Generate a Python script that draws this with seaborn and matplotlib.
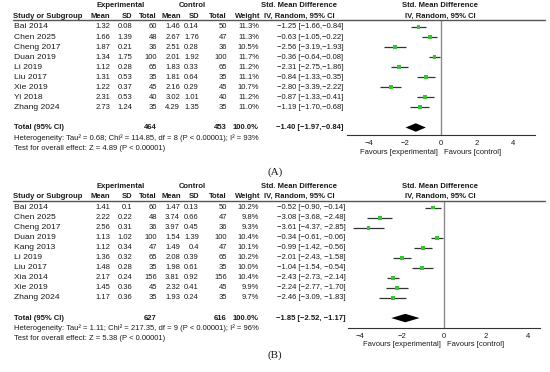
import numpy as np
import matplotlib
matplotlib.use('Agg')
import matplotlib.pyplot as plt
import seaborn as sns

# ---- panel A data ----
studies_a = ["Bai 2014", "Chen 2025", "Cheng 2017", "Duan 2019", "Li 2019",
             "Liu 2017", "Xie 2019", "Yi 2018", "Zhang 2024"]
exp_mean_a = [1.32, 1.66, 1.87, 1.34, 1.12, 1.31, 1.22, 2.31, 2.73]
exp_sd_a = [0.08, 1.39, 0.21, 1.75, 0.28, 0.53, 0.37, 0.53, 1.24]
exp_n_a = [60, 48, 36, 100, 65, 35, 45, 40, 35]
ctl_mean_a = [1.46, 2.67, 2.51, 2.01, 1.83, 1.81, 2.16, 3.02, 4.29]
ctl_sd_a = [0.14, 1.76, 0.28, 1.92, 0.33, 0.64, 0.29, 1.01, 1.35]
ctl_n_a = [50, 47, 36, 100, 65, 35, 45, 40, 35]
weight_a = [11.3, 11.3, 10.5, 11.7, 11.2, 11.1, 10.7, 11.2, 11.0]
smd_a = [-1.25, -0.63, -2.56, -0.36, -2.31, -0.84, -2.80, -0.87, -1.19]
lo_a = [-1.66, -1.05, -3.19, -0.64, -2.75, -1.33, -3.39, -1.33, -1.70]
hi_a = [-0.84, -0.22, -1.93, -0.08, -1.86, -0.35, -2.22, -0.41, -0.68]
total_a = (464, 453, -1.40, -1.97, -0.84)
het_a = "Heterogeneity: Tau\u00b2 = 0.68; Chi\u00b2 = 114.85, df = 8 (P < 0.00001); I\u00b2 = 93%"
test_a = "Test for overall effect: Z = 4.89 (P < 0.00001)"

# ---- panel B data ----
studies_b = ["Bai 2014", "Chen 2025", "Cheng 2017", "Duan 2019", "Kang 2013",
             "Li 2019", "Liu 2017", "Xia 2014", "Xie 2019", "Zhang 2024"]
exp_mean_b = [1.41, 2.22, 2.56, 1.13, 1.12, 1.36, 1.48, 2.17, 1.45, 1.17]
exp_sd_b = [0.1, 0.22, 0.31, 1.02, 0.34, 0.32, 0.28, 0.24, 0.36, 0.36]
exp_n_b = [60, 48, 36, 100, 47, 65, 35, 156, 45, 35]
ctl_mean_b = [1.47, 3.74, 3.97, 1.54, 1.49, 2.08, 1.98, 3.81, 2.32, 1.93]
ctl_sd_b = [0.13, 0.66, 0.45, 1.39, 0.4, 0.39, 0.61, 0.92, 0.41, 0.24]
ctl_n_b = [50, 47, 36, 100, 47, 65, 35, 156, 45, 35]
weight_b = [10.2, 9.8, 9.3, 10.4, 10.1, 10.2, 10.0, 10.4, 9.9, 9.7]
smd_b = [-0.52, -3.08, -3.61, -0.34, -0.99, -2.01, -1.04, -2.43, -2.24, -2.46]
lo_b = [-0.90, -3.68, -4.37, -0.61, -1.42, -2.43, -1.54, -2.73, -2.77, -3.09]
hi_b = [-0.14, -2.48, -2.85, -0.06, -0.56, -1.58, -0.54, -2.14, -1.70, -1.83]
total_b = (627, 616, -1.85, -2.52, -1.17)
het_b = "Heterogeneity: Tau\u00b2 = 1.11; Chi\u00b2 = 217.35, df = 9 (P < 0.00001); I\u00b2 = 96%"
test_b = "Test for overall effect: Z = 5.38 (P < 0.00001)"

ticks = [-4, -2, 0, 2, 4]

sns.set_theme(style='white')
plt.rcParams['font.family'] = ['Liberation Sans', 'DejaVu Sans']

W, H = 550, 372
fig = plt.figure(figsize=(5.5, 3.72), dpi=100)
FS = 5.5
GREEN = '#2fc82f'


def fx(x):
    return x / W


def fy(y):
    return 1 - y / H


def txt(x, y, s, **kw):
    kw.setdefault('fontsize', FS)
    kw.setdefault('va', 'center')
    kw.setdefault('color', '#1a1a1a')
    fig.text(fx(x), fy(y), s, **kw)


def m(v):
    return f"{v:.2f}".replace('-', '\u2212')


def panel(y0, studies, em, esd, en, cm, csd, cn, w, smd, lo, hi, total,
          het, test, sep, xlim, ax_left, ax_right, ax_bottom, label, label_y):
    step = 10.05
    rows = np.arange(len(studies))
    ry = lambda r: y0 + 11 + r * step
    # header block
    txt(121, y0 - 10.5, "Experimental", ha='center', fontweight='bold')
    txt(192, y0 - 10.5, "Control", ha='center', fontweight='bold')
    txt(299, y0 - 10.5, "Std. Mean Difference", ha='center', fontweight='bold')
    txt(440, y0 - 10.5, "Std. Mean Difference", ha='center', fontweight='bold')
    txt(13, y0, "Study or Subgroup", fontweight='bold')
    for x, s in [(110, "Mean"), (132, "SD"), (157, "Total"), (181, "Mean"),
                 (199, "SD"), (227, "Total"), (260, "Weight")]:
        txt(x, y0, s, ha='right', fontweight='bold')
    txt(299, y0, "IV, Random, 95% CI", ha='center', fontweight='bold')
    txt(440, y0, "IV, Random, 95% CI", ha='center', fontweight='bold')
    fig.add_artist(plt.Line2D([fx(13), fx(545)], [fy(y0 + 4)] * 2,
                              color='#555555', lw=1.0))
    # study rows
    for i, s in enumerate(studies):
        y = ry(i)
        txt(14, y, s, fontsize=6.1)
        txt(110, y, f"{em[i]:g}", ha='right')
        txt(132, y, f"{esd[i]:g}", ha='right')
        txt(157, y, str(en[i]), ha='right')
        txt(180, y, f"{cm[i]:g}", ha='right')
        txt(199, y, f"{csd[i]:g}", ha='right')
        txt(227, y, str(cn[i]), ha='right')
        txt(259, y, f"{w[i]:.1f}%", ha='right')
        txt(277, y, f"{m(smd[i])} [{m(lo[i])},{sep}{m(hi[i])}]")
    tr = len(studies) + 1
    yt = ry(tr)
    txt(14, yt, "Total (95% CI)", fontweight='bold')
    txt(157, yt, str(total[0]), ha='right', fontweight='bold')
    txt(227, yt, str(total[1]), ha='right', fontweight='bold')
    txt(259, yt, "100.0%", ha='right', fontweight='bold')
    txt(276, yt, f"{m(total[2])} [{m(total[3])},{sep}{m(total[4])}]",
        fontweight='bold')
    txt(14, yt + 10.5, het)
    txt(14, yt + 20.5, test)

    # forest plot
    top = y0 + 4
    ax = fig.add_axes([fx(ax_left), fy(ax_bottom), (ax_right - ax_left) / W,
                       (ax_bottom - top) / H])
    ax.set_xlim(*xlim)
    ax.set_ylim((ax_bottom - y0 - 11) / step, (top - y0 - 11) / step)
    ax.axvline(0, color='#8a8a8a', lw=1.0, zorder=1)
    ax.hlines(rows, lo, hi, color='#333333', lw=0.9, zorder=2)
    sns.scatterplot(x=smd, y=rows, marker='s', color=GREEN, s=8,
                    edgecolor='none', legend=False, ax=ax, zorder=3)
    est, dlo, dhi = total[2], total[3], total[4]
    ax.fill([dlo, est, dhi, est], [tr, tr - 0.42, tr, tr + 0.42],
            color='black', lw=0, zorder=3)
    for sp in ['top', 'right', 'left']:
        ax.spines[sp].set_visible(False)
    ax.spines['bottom'].set_color('#333333')
    ax.spines['bottom'].set_linewidth(0.8)
    ax.set_facecolor('none')
    ax.set_yticks([])
    ax.set_xticks(ticks)
    ax.set_xticklabels([str(t).replace('-', '\u2212') for t in ticks])
    ax.tick_params(axis='x', direction='inout', length=5, width=0.8,
                   color='#333333', labelsize=FS, pad=1, labelcolor='#1a1a1a')
    ax.set_xlabel('')
    zero_px = ax_left + (0 - xlim[0]) / (xlim[1] - xlim[0]) * (ax_right - ax_left)
    txt(zero_px - 3, ax_bottom + 17, "Favours [experimental]", ha='right')
    txt(zero_px + 3, ax_bottom + 17, "Favours [control]", ha='left')
    txt(275, label_y, label, ha='center', fontsize=8,
        family=['Liberation Serif', 'DejaVu Serif'])


panel(16, studies_a, exp_mean_a, exp_sd_a, exp_n_a, ctl_mean_a, ctl_sd_a,
      ctl_n_a, weight_a, smd_a, lo_a, hi_a, total_a, het_a, test_a, '',
      (-5.22, 5.22), 347, 535, 135, "(A)", 172)
panel(196.5, studies_b, exp_mean_b, exp_sd_b, exp_n_b, ctl_mean_b, ctl_sd_b,
      ctl_n_b, weight_b, smd_b, lo_b, hi_b, total_b, het_b, test_b, ' ',
      (-4.59, 4.59), 348, 540, 328, "(B)", 355)

fig.savefig('out.png', dpi=100)
plt.close(fig)
